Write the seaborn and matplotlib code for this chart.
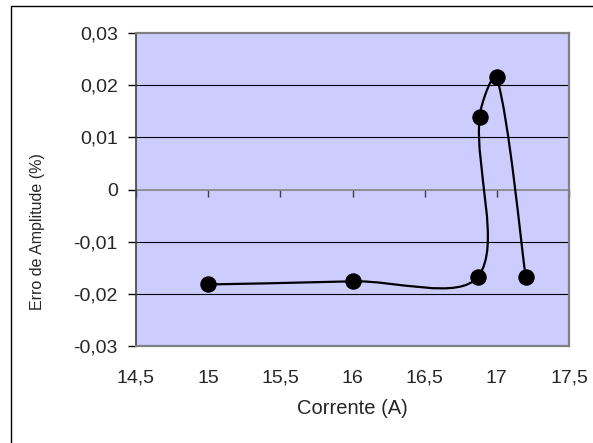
import matplotlib
matplotlib.use('Agg')
import numpy as np
import pandas as pd
import seaborn as sns
from matplotlib import pyplot as plt
from matplotlib.path import Path
from matplotlib.patches import PathPatch, Rectangle
from matplotlib.ticker import FuncFormatter

# measured points (current in A, amplitude error in %)
corrente = [15.0, 16.0, 16.87, 16.88, 17.0, 17.2]
erro = [-0.0182, -0.0176, -0.0167, 0.0139, 0.0215, -0.0168]

x_ticks = [14.5, 15, 15.5, 16, 16.5, 17, 17.5]
y_ticks = [-0.03, -0.02, -0.01, 0, 0.01, 0.02, 0.03]

df = pd.DataFrame({"Corrente (A)": corrente, "Erro de Amplitude (%)": erro})

sns.set_style("white")
plt.rcParams['font.family'] = ['Liberation Sans', 'DejaVu Sans']

fig = plt.figure(figsize=(5.93, 4.43), dpi=100)
ax = fig.add_axes([136 / 593, 97 / 443, 433 / 593, 313 / 443])
ax.set_facecolor('#ccccff')
ax.set_xlim(14.5, 17.5)
ax.set_ylim(-0.03, 0.03)

# outer chart border (only left/top visible in the original)
fig.patches.append(Rectangle((11 / 593, -0.05), 1.1, 1 - 6 / 443 + 0.05,
                             transform=fig.transFigure, fill=False,
                             edgecolor='black', linewidth=1.0))

for y in [0.02, 0.01, -0.01, -0.02]:
    ax.axhline(y, color='black', linewidth=0.8, zorder=1)
ax.axhline(0, color='#808080', linewidth=1.2, zorder=1)


def fmt(v, pos):
    s = ('%g' % round(v, 4)).replace('.', ',')
    return '0' if s in ('-0', '0') else s


ax.set_xticks(x_ticks)
ax.set_yticks(y_ticks)
ax.xaxis.set_major_formatter(FuncFormatter(fmt))
ax.yaxis.set_major_formatter(FuncFormatter(fmt))
ax.tick_params(axis='x', length=0, pad=17, labelsize=14)
ax.tick_params(axis='y', direction='out', length=6, width=1, color='black',
               pad=7, labelsize=14, left=True)

for side in ['top', 'bottom', 'right']:
    ax.spines[side].set_color('#808080')
    ax.spines[side].set_linewidth(1.6)
ax.spines['left'].set_color('#404040')
ax.spines['left'].set_linewidth(1.2)

# x axis crosses at y = 0 with its tick marks
sec = ax.secondary_xaxis(0.5)
sec.set_xticks(x_ticks)
sec.xaxis.set_ticks_position('bottom')
sec.set_xticklabels([])
sec.tick_params(direction='out', length=5, width=1, color='#404040',
                labeltop=False, labelbottom=False)
for sp in sec.spines.values():
    sp.set_visible(False)

# smoothed line like the spreadsheet (Bezier through the points, in screen space)
pts = ax.transData.transform(np.column_stack([corrente, erro]))
n = len(pts)
seg = [np.hypot(*(pts[i + 1] - pts[i])) for i in range(n - 1)]
verts = [pts[0]]
codes = [Path.MOVETO]
for i in range(n - 1):
    p0 = pts[max(i - 1, 0)]
    p1 = pts[i]
    p2 = pts[i + 1]
    p3 = pts[min(i + 2, n - 1)]
    d_prev = seg[i - 1] if i > 0 else seg[i]
    d_next = seg[i + 1] if i + 1 < n - 1 else seg[i]
    c1 = p1 + (p2 - p0) * seg[i] / (d_prev + seg[i]) / 3
    c2 = p2 - (p3 - p1) * seg[i] / (seg[i] + d_next) / 3
    verts += [c1, c2, p2]
    codes += [Path.CURVE4] * 3
verts = ax.transData.inverted().transform(np.array(verts))
ax.add_patch(PathPatch(Path(verts, codes), facecolor='none', edgecolor='black',
                       linewidth=1.6, transform=ax.transData, zorder=3))

sns.scatterplot(data=df, x="Corrente (A)", y="Erro de Amplitude (%)", ax=ax,
                color='black', s=120, edgecolor='black', zorder=4, legend=False)

ax.set_xlabel("Corrente (A)", fontsize=14.5, labelpad=9)
ax.set_ylabel("Erro de Amplitude (%)", fontsize=11.5,
              family=['Liberation Sans Narrow', 'Liberation Sans'])
ax.yaxis.set_label_coords(-0.21, 0.365)

fig.savefig("out.png", dpi=100)
